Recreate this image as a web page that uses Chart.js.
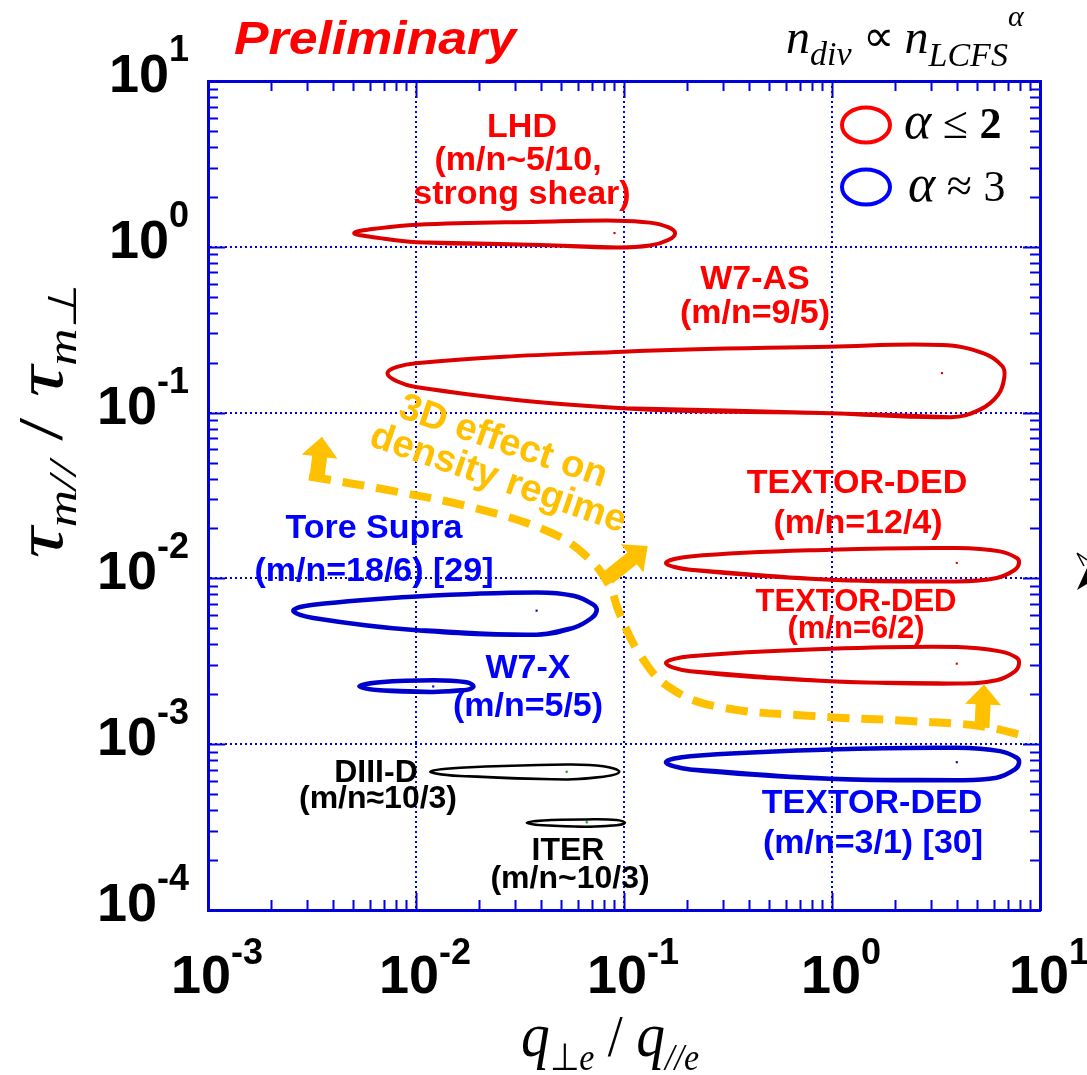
<!DOCTYPE html>
<html>
<head>
<meta charset="utf-8">
<script src="https://cdn.jsdelivr.net/npm/chart.js@4.4.1/dist/chart.umd.min.js"></script>
<style>
  html, body { margin: 0; padding: 0; background: #fff; }
  #wrap { width: 1087px; height: 1075px; }
</style>
</head>
<body>
<div id="wrap"><canvas id="chart" width="1087" height="1075"></canvas></div>
<script>
// points: [q_perp/q_par , tau_m// / tau_m_perp]
// each loop starts and ends on its lower edge
const LHD = [[0.0395,1.024],[0.0101,1.067],[0.00671,1.128],[0.00504,1.209],[0.00671,1.296],[0.0101,1.360],[0.0395,1.418],[0.0925,1.438],[0.133,1.399],[0.163,1.314],[0.176,1.209],[0.163,1.098],[0.133,1.017],[0.0925,0.989],[0.0395,1.024]];
const W7AS = [[0.978,0.0992],[0.0989,0.1063],[0.00996,0.1428],[0.00729,0.1727],[0.00996,0.1984],[0.0989,0.2331],[0.978,0.2498],[3.38,0.2558],[5.36,0.2279],[6.58,0.1911],[6.74,0.1641],[6.28,0.1278],[5.11,0.1038],[3.71,0.0938],[0.978,0.0992]];
const TORE_SUPRA = [[0.0380,0.00458],[0.0101,0.00486],[0.00321,0.00577],[0.00257,0.00639],[0.00321,0.00694],[0.0101,0.00779],[0.0380,0.00823],[0.0571,0.00786],[0.0712,0.00694],[0.0739,0.00639],[0.0699,0.00577],[0.0571,0.00503],[0.0380,0.00458]];
const W7X = [[0.0121,0.002068],[0.00671,0.002114],[0.00534,0.002235],[0.00671,0.002363],[0.0121,0.002429],[0.0175,0.002363],[0.0189,0.002235],[0.0175,0.002126],[0.0121,0.002068]];
const DIIID = [[0.0530,0.000613],[0.0163,0.000642],[0.0117,0.000682],[0.0163,0.000721],[0.0530,0.000755],[0.0795,0.000737],[0.0949,0.000682],[0.0795,0.000636],[0.0530,0.000613]];
const ITER = [[0.0662,0.000318],[0.0409,0.000324],[0.0341,0.000336],[0.0409,0.000347],[0.0662,0.000352],[0.0922,0.000349],[0.101,0.000336],[0.0922,0.000324],[0.0662,0.000318]];
const TEXTOR_12_4 = [[0.978,0.00982],[0.208,0.01128],[0.159,0.01238],[0.208,0.01357],[0.978,0.01489],[3.98,0.01524],[6.42,0.01455],[7.73,0.01327],[7.93,0.01238],[7.58,0.01128],[6.19,0.01006],[3.98,0.00959],[0.978,0.00982]];
const TEXTOR_6_2 = [[0.978,0.00240],[0.208,0.00275],[0.159,0.00309],[0.208,0.00339],[0.978,0.00376],[3.98,0.00386],[6.42,0.00363],[7.73,0.00332],[7.93,0.00306],[7.58,0.00275],[6.19,0.00243],[3.98,0.00232],[0.978,0.00240]];
const TEXTOR_3_1 = [[0.978,0.000619],[0.208,0.000704],[0.159,0.000779],[0.208,0.000847],[0.978,0.000929],[3.98,0.000951],[6.42,0.000908],[7.73,0.000828],[7.93,0.000772],[7.58,0.000704],[6.19,0.000628],[3.98,0.000607],[0.978,0.000619]];

// centre dots of the loops
const RED_CENTERS = [[0.090,1.21],[3.38,0.173],[3.98,0.0124],[3.98,0.00306]];
const BLUE_CENTERS = [[0.038,0.00639],[0.0121,0.00223],[3.98,0.000779]];
const GREEN_CENTERS = [[0.053,0.000682],[0.0662,0.000338]];

// yellow dashed trend ("3D effect on density regime") and its arrows [tail, tip]
const TREND = [[0.00306,0.0412],[0.00649,0.0351],[0.0190,0.0266],[0.0448,0.0188],[0.0686,0.0130],[0.0853,0.00895],[0.0949,0.00619],[0.118,0.00355],[0.162,0.00224],[0.278,0.00169],[0.812,0.00148],[2.37,0.00138],[5.32,0.00128],[8.95,0.00110]];
const ARROWS = [[[0.00334,0.0399],[0.00353,0.0714]],[[0.0838,0.0101],[0.130,0.0157]],[[5.26,0.00126],[5.38,0.00229]]];

// tick labels (exponents of 10)
const X_TICK_EXP = ['-3','-2','-1','0','1'];
const Y_TICK_EXP = ['1','0','-1','-2','-3','-4'];

const AXIS = '#0000dd';
const RED = '#dd0000', BLUE = '#0000cc', YELLOW = '#ffc000';
const SANS = '"Liberation Sans", Arial, Helvetica, sans-serif';
const SERIF = '"Liberation Serif", "Times New Roman", serif';

const toXY = arr => arr.map(p => ({x: p[0], y: p[1]}));

// closed loop: one point of overlap on each side so the seam stays smooth
function loop(data, color, width) {
    const closed = [data[data.length - 2], ...data, data[1]];
    return {
        data: toXY(closed), showLine: true, borderColor: color, borderWidth: width,
        tension: 0.4, pointRadius: 0, fill: false
    };
}
function dots(data, color) {
    return { data: toXY(data), showLine: false, pointRadius: 1.5, pointStyle: 'rect',
             backgroundColor: color, borderColor: color, borderWidth: 0 };
}

function runsWidth(ctx, parts) {
    let w = 0;
    parts.forEach(p => { ctx.font = p[1]; w += ctx.measureText(p[0]).width; });
    return w;
}
// draw a row of text pieces [text, font, dy]
function runs(ctx, parts, x, y, align) {
    const w = runsWidth(ctx, parts);
    let cx = align === 'center' ? x - w / 2 : (align === 'right' ? x - w : x);
    parts.forEach(p => {
        ctx.font = p[1];
        ctx.fillText(p[0], cx, y + (p[2] || 0));
        cx += ctx.measureText(p[0]).width;
    });
}
// same, stretched horizontally to a given width, centred on x
function runsFit(ctx, parts, x, y, width) {
    const w = runsWidth(ctx, parts);
    ctx.save();
    ctx.translate(x, y);
    ctx.scale(width / w, 1);
    runs(ctx, parts, 0, 0, 'center');
    ctx.restore();
}

function blockArrow(ctx, x0, y0, x1, y1) {
    const ang = Math.atan2(y1 - y0, x1 - x0);
    const len = Math.hypot(x1 - x0, y1 - y0);
    const sw = 15, hw = 36, hl = 20;
    ctx.save();
    ctx.translate(x0, y0);
    ctx.rotate(ang);
    ctx.beginPath();
    ctx.moveTo(0, -sw / 2);
    ctx.lineTo(len - hl, -sw / 2);
    ctx.lineTo(len - hl, -hw / 2);
    ctx.lineTo(len, 0);
    ctx.lineTo(len - hl, hw / 2);
    ctx.lineTo(len - hl, sw / 2);
    ctx.lineTo(0, sw / 2);
    ctx.closePath();
    ctx.fill();
    ctx.restore();
}

const decor = {
    id: 'decor',
    afterDraw(chart) {
        const ctx = chart.ctx;
        const {left, right, top, bottom} = chart.chartArea;
        const sx = chart.scales.x, sy = chart.scales.y;
        ctx.save();

        // inward ticks on all four sides
        ctx.strokeStyle = AXIS;
        ctx.lineWidth = 2;
        sx.ticks.forEach(t => {
            const p = Math.round(sx.getPixelForValue(t.value)) + 0.5;
            const len = t.major ? 17 : 10;
            ctx.beginPath();
            ctx.moveTo(p, bottom); ctx.lineTo(p, bottom - len);
            ctx.moveTo(p, top); ctx.lineTo(p, top + len);
            ctx.stroke();
        });
        sy.ticks.forEach(t => {
            const p = Math.round(sy.getPixelForValue(t.value)) + 0.5;
            const len = t.major ? 17 : 10;
            ctx.beginPath();
            ctx.moveTo(left, p); ctx.lineTo(left + len, p);
            ctx.moveTo(right, p); ctx.lineTo(right - len, p);
            ctx.stroke();
        });

        // tick labels
        ctx.fillStyle = '#000';
        ctx.textBaseline = 'alphabetic';
        const base = `bold 54px ${SANS}`, sup = `bold 36px ${SANS}`;
        X_TICK_EXP.forEach(e => {
            const p = sx.getPixelForValue(Math.pow(10, Number(e)));
            runs(ctx, [['10', base, 0], [e, sup, -29]], p + 9, 993, 'center');
        });
        Y_TICK_EXP.forEach(e => {
            const p = sy.getPixelForValue(Math.pow(10, Number(e)));
            runs(ctx, [['10', base, 0], [e, sup, -31]], 189, p + 11, 'right');
        });

        // axis titles
        const big = `italic 64px ${SERIF}`, sub = `italic 38px ${SERIF}`, subUp = `38px ${SERIF}`;
        runsFit(ctx, [['q', big, 0], ['\u22A5', subUp, 14], ['e', sub, 14], [' / ', `60px ${SERIF}`, 0], ['q', big, 0], ['//e', sub, 14]], 610, 1056, 178);
        ctx.save();
        ctx.translate(62, 421);
        ctx.rotate(-Math.PI / 2);
        runsFit(ctx, [['\u03C4', `italic 68px ${SERIF}`, 0], ['m//', `italic 40px ${SERIF}`, 14], [' / ', `64px ${SERIF}`, 0],
                      ['\u03C4', `italic 68px ${SERIF}`, 0], ['m\u22A5', `italic 40px ${SERIF}`, 14]], 0, 0, 275);
        ctx.restore();

        // "Preliminary"
        ctx.save();
        ctx.fillStyle = '#ff0000';
        ctx.font = `italic bold 46px ${SANS}`;
        const pw = ctx.measureText('Preliminary').width;
        ctx.translate(234, 54);
        ctx.scale(282 / pw, 1);
        ctx.fillText('Preliminary', 0, 0);
        ctx.restore();

        // n_div ∝ n_LCFS^alpha
        ctx.fillStyle = '#000';
        runs(ctx, [['n', `italic 48px ${SERIF}`, 0], ['div', `italic 34px ${SERIF}`, 12], [' \u221D ', `44px ${SERIF}`, -2],
                   ['n', `italic 48px ${SERIF}`, 0], ['LCFS', `italic 34px ${SERIF}`, 13], ['\u03B1', `italic 30px ${SERIF}`, -27]], 786, 53, 'left');

        // legend
        ctx.lineWidth = 4;
        ctx.strokeStyle = '#ff0000';
        ctx.beginPath(); ctx.ellipse(866, 125, 24, 17.5, 0, 0, Math.PI * 2); ctx.stroke();
        ctx.strokeStyle = '#0000ff';
        ctx.beginPath(); ctx.ellipse(866, 187, 24, 17.5, 0, 0, Math.PI * 2); ctx.stroke();
        ctx.fillStyle = '#000';
        runs(ctx, [['\u03B1', `italic 52px ${SERIF}`, 0], [' \u2264 ', `46px ${SERIF}`, 0], ['2', `bold 44px ${SERIF}`, 0]], 904, 138, 'left');
        runs(ctx, [['\u03B1', `italic 52px ${SERIF}`, 0], [' \u2248 ', `46px ${SERIF}`, 0], ['3', `44px ${SERIF}`, 0]], 908, 201, 'left');

        // device labels
        const L = `bold 34px ${SANS}`, M = `bold 31px ${SANS}`, K = `bold 32px ${SANS}`;
        const labels = [
            ['LHD', 522, 137, '#ff0000', L], ['(m/n~5/10,', 518, 170, '#ff0000', L], ['strong shear)', 522, 204, '#ff0000', L],
            ['W7-AS', 755, 289, '#ff0000', L], ['(m/n=9/5)', 755, 323, '#ff0000', L],
            ['Tore Supra', 374, 538, '#0000ff', L], ['(m/n=18/6) [29]', 374, 581, '#0000ff', L],
            ['W7-X', 528, 678, '#0000ff', L], ['(m/n=5/5)', 528, 716, '#0000ff', L],
            ['DIII-D', 376, 782, '#000', K], ['(m/n\u224810/3)', 378, 808, '#000', K],
            ['ITER', 568, 860, '#000', K], ['(m/n~10/3)', 570, 888, '#000', K],
            ['TEXTOR-DED', 857, 493, '#ff0000', L], ['(m/n=12/4)', 858, 533, '#ff0000', L],
            ['TEXTOR-DED', 856, 611, '#ff0000', M], ['(m/n=6/2)', 856, 638, '#ff0000', M],
            ['TEXTOR-DED', 872, 813, '#0000ff', L], ['(m/n=3/1) [30]', 873, 853, '#0000ff', L]
        ];
        ctx.textAlign = 'center';
        labels.forEach(l => { ctx.fillStyle = l[3]; ctx.font = l[4]; ctx.fillText(l[0], l[1], l[2]); });

        // arrows + rotated note
        ctx.fillStyle = YELLOW;
        ARROWS.forEach(a => {
            blockArrow(ctx, sx.getPixelForValue(a[0][0]), sy.getPixelForValue(a[0][1]),
                            sx.getPixelForValue(a[1][0]), sy.getPixelForValue(a[1][1]));
        });
        ctx.font = `bold 38px ${SANS}`;
        ctx.textBaseline = 'middle';
        ctx.save(); ctx.translate(503, 442); ctx.rotate(19 * Math.PI / 180); ctx.fillText('3D effect on', 0, 0); ctx.restore();
        ctx.save(); ctx.translate(498, 479); ctx.rotate(19 * Math.PI / 180); ctx.fillText('density regime', 0, 0); ctx.restore();

        // clipped mark at the right edge
        ctx.strokeStyle = '#000'; ctx.fillStyle = '#000'; ctx.lineWidth = 1.5;
        ctx.beginPath(); ctx.moveTo(1077, 553); ctx.lineTo(1087, 560); ctx.moveTo(1077, 553); ctx.lineTo(1084, 566); ctx.stroke();
        ctx.beginPath(); ctx.moveTo(1077, 590); ctx.lineTo(1087, 568); ctx.lineTo(1087, 584); ctx.closePath(); ctx.fill();
        ctx.restore();
    }
};

const logAxis = (pos, min, max, grid) => ({
    type: 'logarithmic', position: pos, min: min, max: max,
    ticks: { display: false },
    afterBuildTicks: s => {
        // keep 1..9 x 10^n only
        s.ticks = s.ticks.filter(t => {
            const m = t.value / Math.pow(10, Math.floor(Math.log10(t.value) + 1e-9));
            return Math.abs(m - Math.round(m)) < 1e-6;
        });
    },
    grid: grid ? {
        drawTicks: false, lineWidth: 2,
        color: c => (c.tick && c.tick.major) ? AXIS : 'rgba(0,0,0,0)'
    } : { drawOnChartArea: false, drawTicks: false },
    border: { display: true, color: AXIS, width: 3, dash: [2, 3] }
});

new Chart(document.getElementById('chart'), {
    type: 'scatter',
    data: {
        datasets: [
            { data: toXY(TREND), showLine: true, borderColor: YELLOW, borderWidth: 8, borderDash: [22, 12],
              tension: 0.4, pointRadius: 0, fill: false },
            loop(LHD, RED, 4),
            loop(W7AS, RED, 4),
            loop(TEXTOR_12_4, RED, 4),
            loop(TEXTOR_6_2, RED, 4),
            loop(TORE_SUPRA, BLUE, 4.5),
            loop(W7X, BLUE, 4.5),
            loop(TEXTOR_3_1, BLUE, 4.5),
            loop(DIIID, '#000', 2.5),
            loop(ITER, '#000', 2.5),
            dots(RED_CENTERS, RED),
            dots(BLUE_CENTERS, BLUE),
            dots(GREEN_CENTERS, '#00a000')
        ]
    },
    options: {
        responsive: false,
        animation: false,
        devicePixelRatio: 1,
        events: [],
        layout: { padding: { left: 208, top: 81, right: 47, bottom: 165 } },
        plugins: { legend: { display: false }, tooltip: { enabled: false } },
        scales: {
            x: logAxis('bottom', 1e-3, 10, true),
            y: logAxis('left', 1e-4, 10, true),
            x2: logAxis('top', 1e-3, 10, false),
            y2: logAxis('right', 1e-4, 10, false)
        }
    },
    plugins: [decor]
});
</script>
</body>
</html>
